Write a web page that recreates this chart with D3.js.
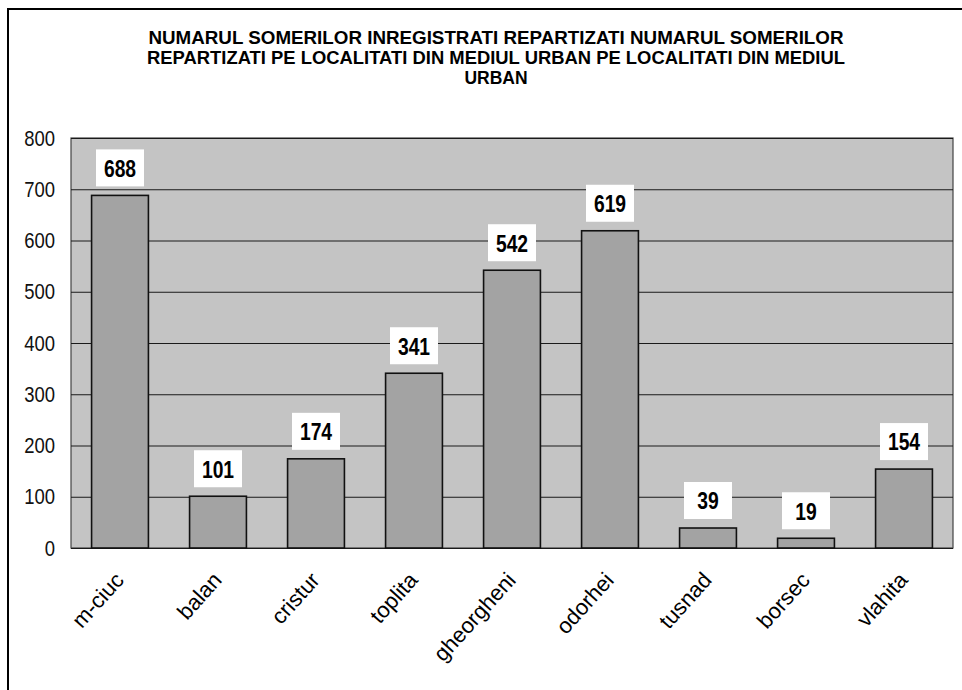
<!DOCTYPE html>
<html lang="en">
<meta charset="utf-8">

<!-- Load d3.js -->
<script src="https://d3js.org/d3.v7.min.js"></script>

<style>
  body { margin: 0; background: #fff; }
</style>

<div id="my_dataviz"></div>

<script>

// data
var towns = ["m-ciuc", "balan", "cristur", "toplita", "gheorgheni", "odorhei", "tusnad", "borsec", "vlahita"];
var unemployed = [688, 101, 174, 341, 542, 619, 39, 19, 154];
var yTicks = [0, 100, 200, 300, 400, 500, 600, 700, 800];
var titleLines = [
  "NUMARUL SOMERILOR INREGISTRATI REPARTIZATI NUMARUL SOMERILOR",
  "REPARTIZATI PE LOCALITATI DIN MEDIUL URBAN PE LOCALITATI DIN MEDIUL",
  "URBAN"
];

var W = 962, H = 690;
var margin = {top: 138, right: 9, bottom: 142, left: 71},
    width = W - margin.left - margin.right,
    height = H - margin.top - margin.bottom;

var font = "Arial, 'Liberation Sans', sans-serif";

var root = d3.select("#my_dataviz")
  .append("svg")
    .attr("width", W)
    .attr("height", H);

// outer chart frame (runs off the right / bottom of the scan)
root.append("rect")
  .attr("x", 8).attr("y", 9)
  .attr("width", W + 20).attr("height", H + 20)
  .attr("fill", "#fff")
  .attr("stroke", "#000")
  .attr("stroke-width", 2);

// title, squeezed a bit like the scan
var titleWidths = [695, 698, null];
root.append("g").selectAll("text")
  .data(titleLines)
  .enter()
  .append("text")
    .attr("x", 496)
    .attr("y", function(d, i) { return 44 + i * 20; })
    .attr("text-anchor", "middle")
    .attr("textLength", function(d, i) { return titleWidths[i]; })
    .attr("lengthAdjust", "spacingAndGlyphs")
    .style("font-family", font)
    .style("font-weight", "bold")
    .style("font-size", "17.5px")
    .text(function(d) { return d; });

var svg = root.append("g")
  .attr("transform", "translate(" + margin.left + "," + margin.top + ")");

var x = d3.scaleBand()
  .domain(towns)
  .range([0, width])
  .paddingInner(0.42)
  .paddingOuter(0.21);

var y = d3.scaleLinear()
  .domain([0, 800])
  .range([height, 0]);

// plot area
svg.append("rect")
  .attr("width", width)
  .attr("height", height)
  .attr("fill", "#c4c4c4")
  .attr("stroke", "#444")
  .attr("stroke-width", 1.2);

// gridlines
svg.append("g")
  .call(d3.axisLeft(y).tickValues(yTicks).tickSize(-width).tickFormat(""))
  .call(function(g) { g.select(".domain").remove(); })
  .selectAll("line")
    .attr("stroke", "#1a1a1a")
    .attr("stroke-width", 1.2);

// y labels (narrowed)
svg.append("g")
  .attr("transform", "translate(-16,0)")
  .call(d3.axisLeft(y).tickValues(yTicks).tickSize(0).tickPadding(0))
  .call(function(g) { g.select(".domain").remove(); })
  .selectAll("text")
    .style("font-family", font)
    .style("font-size", "22px")
    .attr("fill", "#111")
    .attr("transform", "scale(0.84,1)");

// bars
svg.selectAll(".bar")
  .data(unemployed)
  .enter()
  .append("rect")
    .attr("class", "bar")
    .attr("x", function(d, i) { return x(towns[i]); })
    .attr("y", function(d) { return y(d); })
    .attr("width", x.bandwidth())
    .attr("height", function(d) { return height - y(d); })
    .attr("fill", "#a3a3a3")
    .attr("stroke", "#111")
    .attr("stroke-width", 1.6);

// value labels in white boxes
var lab = svg.selectAll(".lab")
  .data(unemployed)
  .enter()
  .append("g")
    .attr("class", "lab")
    .attr("transform", function(d, i) {
      return "translate(" + (x(towns[i]) + x.bandwidth() / 2) + "," + (y(d) - 27) + ")";
    });

lab.append("rect")
  .attr("x", -24).attr("y", -19)
  .attr("width", 48).attr("height", 37)
  .attr("fill", "#fff");

lab.append("text")
  .attr("text-anchor", "middle")
  .attr("dy", "0.36em")
  .attr("transform", "scale(0.84,1)")
  .style("font-family", font)
  .style("font-weight", "bold")
  .style("font-size", "23px")
  .attr("fill", "#000")
  .text(function(d) { return d; });

// category labels
svg.append("g")
  .attr("transform", "translate(0," + height + ")")
  .call(d3.axisBottom(x).tickSize(0).tickPadding(0))
  .call(function(g) { g.select(".domain").remove(); })
  .selectAll("text")
    .style("font-family", font)
    .style("font-size", "22px")
    .attr("fill", "#000")
    .attr("text-anchor", "end")
    .attr("dy", 0)
    .attr("transform", "translate(5,33) rotate(-48)");

</script>
</html>
